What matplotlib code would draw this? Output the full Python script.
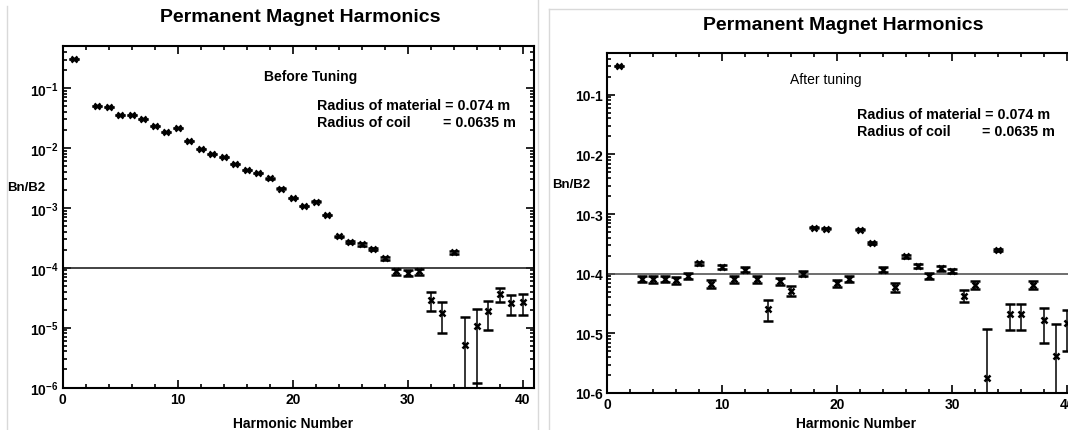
import numpy as np
import matplotlib
matplotlib.use('Agg')
import matplotlib.pyplot as plt
from matplotlib.ticker import FuncFormatter, MultipleLocator, LogLocator, NullFormatter
from matplotlib.lines import Line2D

plt.rcParams['font.family'] = ['Liberation Sans', 'DejaVu Sans']
plt.rcParams['font.weight'] = 'bold'
plt.rcParams['mathtext.fontset'] = 'custom'
plt.rcParams['mathtext.rm'] = 'Liberation Sans:bold'
plt.rcParams['mathtext.bf'] = 'Liberation Sans:bold'

W, H = 1068, 431

# harmonic numbers (n=2 is the reference)
harm = [1, 3, 4, 5, 6, 7, 8, 9, 10, 11, 12, 13, 14, 15, 16, 17, 18, 19, 20, 21,
        22, 23, 24, 25, 26, 27, 28, 29, 30, 31, 32, 33, 34, 35, 36, 37, 38, 39, 40]

before = [0.31, 0.050, 0.049, 0.036, 0.035, 0.030, 0.023, 0.0187, 0.0212, 0.0132,
          0.0095, 0.0079, 0.0072, 0.0054, 0.0043, 0.0038, 0.0031, 0.0021, 0.00148, 0.00107,
          0.00127, 0.00076, 3.35e-4, 2.65e-4, 2.45e-4, 2.05e-4, 1.44e-4, 8.7e-5, 8.3e-5, 8.7e-5,
          2.9e-5, 1.75e-5, 1.81e-4, 5.2e-6, 1.08e-5, 1.87e-5, 3.6e-5, 2.55e-5, 2.65e-5]
before_err = [1e-5, 1e-5, 1e-5, 1e-5, 1e-5, 1e-5, 1e-5, 1e-5, 1e-5, 1e-5,
              1e-5, 1e-5, 1e-5, 1e-5, 1e-5, 1e-5, 1e-5, 1e-5, 1e-5, 1e-5,
              1e-5, 1e-5, 1e-5, 1e-5, 1e-5, 1e-5, 1e-5, 1e-5, 1e-5, 1e-5,
              1.0e-5, 0.95e-5, 1e-5, 1.0e-5, 0.96e-5, 0.95e-5, 0.95e-5, 0.95e-5, 1.0e-5]

after = [0.30, 8.2e-5, 8.0e-5, 8.2e-5, 7.8e-5, 9.2e-5, 1.49e-4, 6.7e-5, 1.28e-4, 8.0e-5,
         1.17e-4, 8.0e-5, 2.6e-5, 7.4e-5, 5.2e-5, 1.0e-4, 5.85e-4, 5.7e-4, 6.9e-5, 8.2e-5,
         5.5e-4, 3.3e-4, 1.17e-4, 6.0e-5, 1.95e-4, 1.35e-4, 9.2e-5, 1.23e-4, 1.12e-4, 4.3e-5,
         6.45e-5, 1.8e-6, 2.5e-4, 2.15e-5, 2.15e-5, 6.45e-5, 1.67e-5, 4.2e-6, 1.5e-5]
after_err = [1e-5, 1e-5, 1e-5, 1e-5, 1e-5, 1e-5, 1e-5, 1e-5, 1e-5, 1e-5,
             1e-5, 1e-5, 1.0e-5, 1e-5, 1e-5, 1e-5, 1e-5, 1e-5, 1e-5, 1e-5,
             1e-5, 1e-5, 1e-5, 1e-5, 1e-5, 1e-5, 1e-5, 1e-5, 1e-5, 1e-5,
             1e-5, 1.0e-5, 1e-5, 1.0e-5, 1.0e-5, 1e-5, 0.97e-5, 1.0e-5, 1.0e-5]

THRESHOLD = 1e-4


def fx(px):
    return px / W


def fy(py):
    return 1 - py / H


def setup(ax, fmt, hcolor):
    ax.set_yscale('log')
    ax.set_xlim(0, 41)
    ax.set_ylim(1e-6, 0.5)
    ax.xaxis.set_major_locator(MultipleLocator(10))
    ax.xaxis.set_minor_locator(MultipleLocator(2))
    ax.yaxis.set_major_locator(LogLocator(base=10, numticks=10))
    ax.yaxis.set_minor_locator(LogLocator(base=10, subs=np.arange(2, 10), numticks=20))
    ax.yaxis.set_major_formatter(FuncFormatter(fmt))
    ax.yaxis.set_minor_formatter(NullFormatter())
    ax.tick_params(which='both', direction='in', top=True, right=True, width=1.2)
    ax.tick_params(which='major', length=6, labelsize=10, pad=3)
    ax.tick_params(which='minor', length=3)
    for s in ax.spines.values():
        s.set_linewidth(1.5)
    for lab in ax.get_xticklabels() + ax.get_yticklabels():
        lab.set_fontweight('bold')
    ax.axhline(THRESHOLD, color=hcolor, lw=1.2)


def sup_fmt(v, pos):
    e = int(round(np.log10(v)))
    return r'$\mathbf{10^{%d}}$' % e


def plain_fmt(v, pos):
    e = int(round(np.log10(v)))
    return '10%d' % e


fig = plt.figure(figsize=(W / 100, H / 100), dpi=100)

# left panel
ax1 = fig.add_axes([fx(62.7), fy(388.5), fx(534.3 - 62.7), (388.5 - 47.3) / H])
setup(ax1, sup_fmt, '#222222')
ax1.errorbar(harm, before, yerr=before_err, fmt='x', color='black', ms=4.5, mew=1.8,
             elinewidth=1.1, capsize=3.5, capthick=1.5)

# right panel (screenshot cut at the right edge)
ax2 = fig.add_axes([fx(607), fy(394), fx(534.3 - 62.7), (394 - 54) / H])
setup(ax2, plain_fmt, '#555555')
ax2.errorbar(harm, after, yerr=after_err, fmt='x', color='black', ms=4.5, mew=1.8,
             elinewidth=1.1, capsize=3.5, capthick=1.5)

# texts, left
fig.text(fx(300), fy(18), 'Permanent Magnet Harmonics', ha='center', va='center',
         fontsize=14, fontweight='bold')
fig.text(fx(311), fy(77), 'Before Tuning', ha='center', va='center', fontsize=10, fontweight='bold')
fig.text(fx(317), fy(106), 'Radius of material = 0.074 m', ha='left', va='center',
         fontsize=10.3, fontweight='bold')
fig.text(fx(317), fy(123), 'Radius of coil', ha='left', va='center', fontsize=10.3, fontweight='bold')
fig.text(fx(516), fy(123), '= 0.0635 m', ha='right', va='center', fontsize=10.3, fontweight='bold')
fig.text(fx(7), fy(188), 'Bn/B2', ha='left', va='center', fontsize=9.5, fontweight='bold')
fig.text(fx(293), fy(424), 'Harmonic Number', ha='center', va='center', fontsize=10, fontweight='bold')

# texts, right
fig.text(fx(843), fy(25), 'Permanent Magnet Harmonics', ha='center', va='center',
         fontsize=14, fontweight='bold')
fig.text(fx(826), fy(80), 'After tuning', ha='center', va='center', fontsize=10, fontweight='normal')
fig.text(fx(857), fy(115), 'Radius of material = 0.074 m', ha='left', va='center',
         fontsize=10.3, fontweight='bold')
fig.text(fx(857), fy(132), 'Radius of coil', ha='left', va='center', fontsize=10.3, fontweight='bold')
fig.text(fx(1055), fy(132), '= 0.0635 m', ha='right', va='center', fontsize=10.3, fontweight='bold')
fig.text(fx(552), fy(185), 'Bn/B2', ha='left', va='center', fontsize=9.5, fontweight='bold')
fig.text(fx(856), fy(424), 'Harmonic Number', ha='center', va='center', fontsize=10, fontweight='bold')

# screenshot borders
border = '#d9d9d9'
fig.add_artist(Line2D([fx(7), fx(7)], [fy(7), 0], transform=fig.transFigure, color=border, lw=1))
fig.add_artist(Line2D([fx(538), fx(538)], [1, 0], transform=fig.transFigure, color=border, lw=1))
fig.add_artist(Line2D([fx(549), fx(549)], [fy(10), 0], transform=fig.transFigure, color=border, lw=1))
fig.add_artist(Line2D([fx(549), 1], [fy(10), fy(10)], transform=fig.transFigure, color=border, lw=1))

fig.savefig('out.png', dpi=100)
